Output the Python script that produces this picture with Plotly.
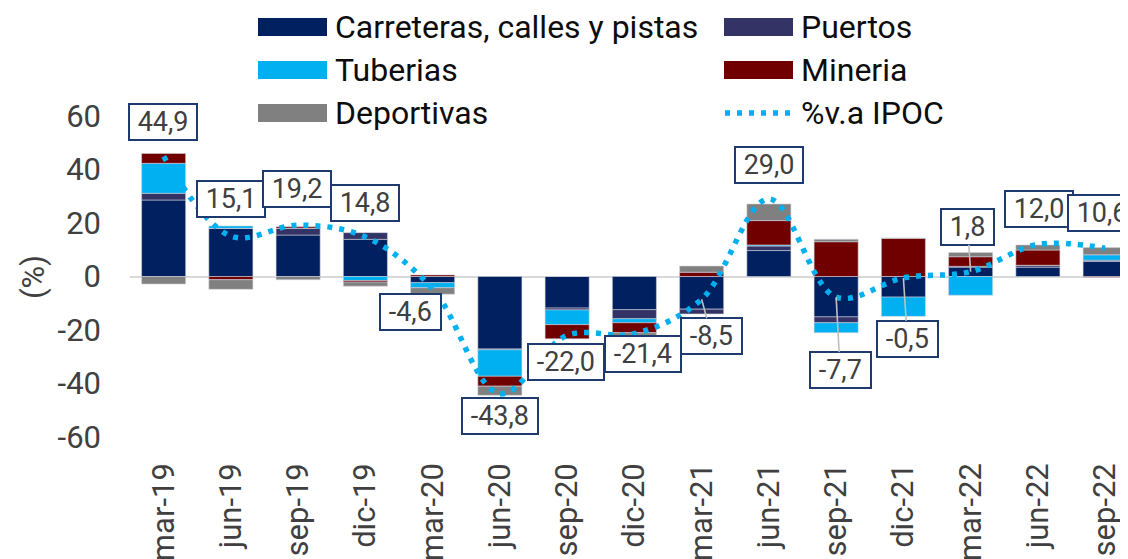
import plotly.graph_objects as go

# ---------------- data ----------------
categories = ["mar-19", "jun-19", "sep-19", "dic-19", "mar-20", "jun-20", "sep-20",
              "dic-20", "mar-21", "jun-21", "sep-21", "dic-21", "mar-22", "jun-22", "sep-22"]
carreteras = [28.6, 18.0, 15.5, 13.9, -2.3, -27.1, -11.8, -12.4, -12.2, 9.7, -15.1, -7.7, 3.5, 3.5, 5.6]
puertos = [2.5, 0.0, 2.5, 2.5, 0.0, -0.3, -0.7, -3.4, -1.8, 1.7, -2.2, 0.0, 0.3, 0.7, 0.5]
tuberias = [11.2, 0.9, 0.0, -1.5, -1.9, -9.9, -5.5, -1.5, 0.0, 0.4, -3.7, -7.2, -7.0, 0.0, 2.0]
mineria = [3.7, -1.2, 0.6, -0.6, 0.6, -3.7, -5.3, -3.7, 1.6, 9.1, 13.0, 14.3, 3.6, 5.7, -0.3]
deportivas = [-2.8, -3.6, -1.2, -1.5, -2.4, -3.4, 0.0, -1.0, 2.3, 6.2, 0.9, 0.0, 1.6, 1.9, 2.7]
ipoc = [44.9, 15.1, 19.2, 14.8, -4.6, -43.8, -22.0, -21.4, -8.5, 29.0, -7.7, -0.5, 1.8, 12.0, 10.6]
y_ticks = [-60, -40, -20, 0, 20, 40, 60]
y_tick_labels = ["-60", "-40", "-20", "0", "20", "40", "60"]

series_names = ["Carreteras, calles y pistas", "Puertos", "Tuberias", "Mineria", "Deportivas"]
series_values = [carreteras, puertos, tuberias, mineria, deportivas]

# ---------------- styles / layout ----------------
colors = ["#002060", "#333366", "#00b0f0", "#700000", "#808080"]
line_color = "#00b0f0"
PAGE = 8  # default body margin of the html page
W, H = 1128 - PAGE, 559 - PAGE
L, R, T, B = 130 - PAGE, 0, 116 - PAGE, 122
x_range = [-0.5, 14.34]
y_range = [-60, 60]
plot_w = W - L - R
plot_h = H - T - B

def px_x(px):
    """reference page pixel -> paper x"""
    return (px - PAGE - L) / plot_w

def px_y(py):
    """reference page pixel -> paper y"""
    return (H - B - (py - PAGE)) / plot_h

# label offsets (pixels, relative to the IPOC point) and leader flags
label_offsets = [(-1, -34), (0, -37), (-1, -36), (0, -34), (-22, 23), (0, 22), (-1, 27), (9, 20),
                 (10, 37), (0, -34), (4, 73), (4, 61), (-3, -45), (1, -35), (-3, -35)]
label_leader = [False, False, False, False, False, False, False, False,
                True, False, True, True, True, False, False]

fig = go.Figure()
for name, vals, col in zip(series_names, series_values, colors):
    fig.add_trace(go.Bar(
        x=categories, y=vals, name=name,
        marker=dict(color=col, line=dict(color="rgba(210,210,220,0.7)", width=0.8)),
        showlegend=False,
    ))

fig.add_trace(go.Scatter(
    x=categories, y=ipoc, name="%v.a IPOC", mode="lines",
    line=dict(color=line_color, width=5.5, dash="5px,7px", shape="spline", smoothing=1.0),
    showlegend=False, cliponaxis=False,
))

annotations = []
for cat, v, (ax, ay), lead in zip(categories, ipoc, label_offsets, label_leader):
    txt = "\u00a0" + f"{v:.1f}".replace(".", ",") + "\u00a0"
    annotations.append(dict(
        x=cat, y=v, xref="x", yref="y", text=txt, showarrow=True,
        ax=ax, ay=ay, axref="pixel", ayref="pixel",
        arrowhead=0, arrowwidth=1.6, standoff=0,
        arrowcolor="#bfbfbf" if lead else "rgba(0,0,0,0)",
        font=dict(family="Roboto", size=27, color="#404040"),
        bgcolor="white", bordercolor="#1f3a6e", borderwidth=2, borderpad=1,
    ))

# y-axis title
annotations.append(dict(
    x=px_x(33), y=px_y(277), xref="paper", yref="paper", text="(%)", showarrow=False,
    textangle=-90, xanchor="center", yanchor="middle",
    font=dict(family="Roboto", size=31, color="#404040"),
))

# manual legend (two columns, three rows)
legend_items = [
    ("Carreteras, calles y pistas", colors[0], 258, 27),
    ("Puertos", colors[1], 724, 27),
    ("Tuberias", colors[2], 258, 70),
    ("Mineria", colors[3], 724, 70),
    ("Deportivas", colors[4], 258, 113),
    ("%v.a IPOC", None, 724, 113),
]
shapes = []
for text, col, x0, yc in legend_items:
    if col is not None:
        shapes.append(dict(type="rect", xref="paper", yref="paper",
                           x0=px_x(x0), x1=px_x(x0 + 69), y0=px_y(yc + 9), y1=px_y(yc - 9),
                           fillcolor=col, line=dict(width=0)))
    else:
        shapes.append(dict(type="line", xref="paper", yref="paper",
                           x0=px_x(x0 + 1), x1=px_x(x0 + 69), y0=px_y(yc), y1=px_y(yc),
                           line=dict(color=line_color, width=5.5, dash="5px,7px")))
    annotations.append(dict(
        x=px_x(x0 + 75), y=px_y(yc), xref="paper", yref="paper", text=text,
        showarrow=False, xanchor="left", yanchor="middle",
        font=dict(family="Roboto", size=32, color="#0d0d0d"),
    ))

fig.update_layout(
    width=W, height=H,
    margin=dict(l=L, r=R, t=T, b=B, autoexpand=False),
    barmode="relative", bargap=0.345,
    plot_bgcolor="white", paper_bgcolor="white",
    showlegend=False,
    annotations=annotations, shapes=shapes,
    xaxis=dict(
        type="category", range=x_range, showgrid=False, zeroline=False, showline=False,
        tickangle=-90, ticks="", ticklabelstandoff=19, automargin=False,
        tickfont=dict(family="Roboto", size=31, color="#404040"),
    ),
    yaxis=dict(
        range=y_range, tickvals=y_ticks, ticktext=y_tick_labels, showgrid=False, zeroline=True,
        zerolinecolor="#d9d9d9", zerolinewidth=2, showline=False, ticks="",
        ticklabelstandoff=28, automargin=False,
        tickfont=dict(family="Roboto", size=31, color="#404040"),
    ),
)

fig.write_html("out.html")
